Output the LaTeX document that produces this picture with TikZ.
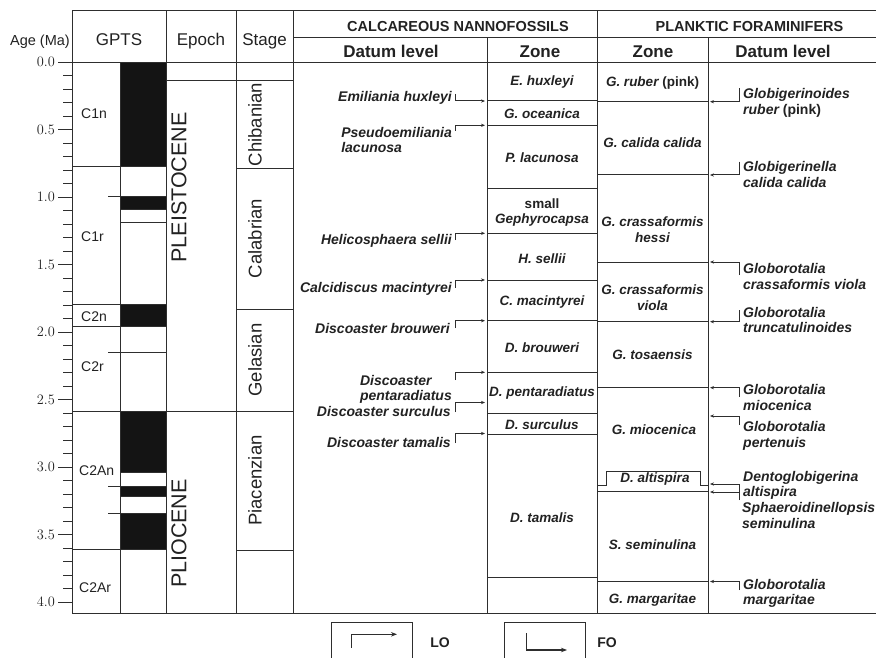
\documentclass[tikz,border=0pt]{standalone}
\usepackage{fontspec}
\setmainfont{Liberation Sans}
\usepackage{xcolor}
\usepackage{tikz}
\usetikzlibrary{arrows.meta}
\definecolor{ink}{HTML}{2E2E2E}
\definecolor{rev}{HTML}{141414}
\definecolor{txt}{HTML}{222222}
\tikzset{
  tabline/.style={draw=ink, line width=1pt},
  npol/.style={fill=rev, draw=ink, line width=1pt},
  datarrow/.style={draw=ink, line width=1pt, -{Stealth[length=4pt,width=3.2pt]}},
  keyarrow/.style={draw=ink, line width=1.4pt, -{Stealth[length=6pt,width=4.5pt]}},
  hdr/.style={text=txt, font=\fontsize{17}{20}\selectfont, inner sep=0, anchor=base},
  hdrcap/.style={text=txt, font=\fontsize{14.5}{17}\selectfont\bfseries, inner sep=0, anchor=base},
  hdrsub/.style={text=txt, font=\fontsize{17}{20}\selectfont\bfseries, inner sep=0, anchor=base},
  agelab/.style={text=txt, font=\fontsize{13.5}{16}\selectfont, inner sep=0, anchor=east},
  chron/.style={text=txt, font=\fontsize{14}{16}\selectfont, inner sep=0, anchor=west},
  epochlab/.style={text=txt, font=\fontsize{21.5}{24}\selectfont, rotate=90, anchor=north,
    inner sep=0, text height=0.72em, text depth=0pt},
  stagelab/.style={text=txt, font=\fontsize{18.5}{21}\selectfont, rotate=90, anchor=north,
    inner sep=0, text height=0.74em, text depth=0.21em},
  zonelab/.style={text=txt, font=\fontsize{13.5}{15.5}\selectfont\bfseries\itshape, align=center, inner sep=0},
  datl/.style={text=txt, font=\fontsize{14}{15.5}\selectfont\bfseries\itshape, align=left, inner sep=0},
  keylab/.style={text=txt, font=\fontsize{14}{16}\selectfont\bfseries, inner sep=0}
}

\begin{document}
\begin{tikzpicture}[x=1pt,y=-1pt]
  \useasboundingbox[fill=white] (0,0) rectangle (876,658);

  % table frame
  \draw[tabline] (72,11) -- (876,11);
  \draw[tabline] (293,38) -- (876,38);
  \draw[tabline] (58,62.3) -- (876,62.3);
  \draw[tabline] (72,613) -- (876,613);
  \foreach \x in {72,166,236,293,597} \draw[tabline] (\x,11) -- (\x,613);
  \foreach \x in {487,708} \draw[tabline] (\x,38) -- (\x,613);
  \draw[tabline] (120,62.3) -- (120,613);

  % age axis
  \foreach \i in {1,...,40} {
    \pgfmathsetmacro\yy{62.3+13.5*\i}
    \draw[tabline] (63,\yy) -- (72,\yy);
  }
  \foreach \k in {0,...,8} {
    \pgfmathsetmacro\yy{62.3+67.5*\k}
    \pgfmathsetmacro\lab{\k/2}
    \draw[tabline] (58,\yy) -- (72,\yy);
    \node[agelab] (age\k) at (55,\yy) {\pgfmathprintnumber[fixed,fixed zerofill,precision=1]{\lab}};
  }

  % header
  \node[agelab, anchor=base east, font=\fontsize{14.5}{17}\selectfont] (agehd) at (70,45.5) {Age (Ma)};
  \node[hdr] (gptshd) at (119,46) {GPTS};
  \node[hdr] (epochhd) at (201,46) {Epoch};
  \node[hdr] (stagehd) at (264.5,46) {Stage};
  \node[hdrcap] (nannohd) at (458,31.7) {CALCAREOUS NANNOFOSSILS};
  \node[hdrcap] (foramhd) at (749.5,31.7) {PLANKTIC FORAMINIFERS};
  \node[hdrsub] (ndatumhd) at (391,57.3) {Datum level};
  \node[hdrsub] (nzonehd) at (540,57.3) {Zone};
  \node[hdrsub] (fzonehd) at (653,57.3) {Zone};
  \node[hdrsub] (fdatumhd) at (783,57.3) {Datum level};

  % GPTS
  \foreach \y in {167,304.3,326} \draw[tabline] (72,\y) -- (120,\y);
  \draw[tabline] (72,411) -- (293,411);
  \draw[tabline] (72,549) -- (120,549);
  \draw[npol] (120,62.3) rectangle (166,167);
  \draw[npol] (120,197) rectangle (166,209);
  \draw[npol] (120,304.3) rectangle (166,326);
  \draw[npol] (120,411) rectangle (166,472);
  \draw[npol] (120,486) rectangle (166,496);
  \draw[npol] (120,513.7) rectangle (166,549);
  \foreach \y in {222.7,352} \draw[tabline] (120,\y) -- (166,\y);
  \foreach \y in {197,352,486,513.7} \draw[tabline] (108,\y) -- (120,\y);
  \node[chron] (c1n) at (81,113.3) {C1n};
  \node[chron] (c1r) at (81,236.7) {C1r};
  \node[chron] (c2n) at (81,316.2) {C2n};
  \node[chron] (c2r) at (81,366.7) {C2r};
  \node[chron] (c2an) at (79,470.7) {C2An};
  \node[chron] (c2ar) at (79,587.3) {C2Ar};

  % epochs and stages
  \draw[tabline] (166,81) -- (293,81);
  \foreach \y in {168.3,309,550.3} \draw[tabline] (236,\y) -- (293,\y);
  \node[epochlab] (pleist) at (179,187.5) {PLEISTOCENE};
  \node[epochlab] (plio) at (179,533.5) {PLIOCENE};
  \node[stagelab] (chib) at (254,124.6) {Chibanian};
  \node[stagelab] (calab) at (254,238.6) {Calabrian};
  \node[stagelab] (gelas) at (254,360) {Gelasian};
  \node[stagelab] (piac) at (254,480.6) {Piacenzian};

  % nannofossil zones
  \foreach \y in {101,125.3,188.3,233.3,280,320.7,372.3,413.3,434,577.3}
    \draw[tabline] (487,\y) -- (597,\y);
  \node[zonelab] (zehux) at (542,82.5) {E. huxleyi};
  \node[zonelab] (zgoce) at (542,113.7) {G. oceanica};
  \node[zonelab] (zplac) at (542,157.7) {P. lacunosa};
  \node[zonelab] (zsgep) at (542,212.5) {{\upshape small}\\Gephyrocapsa};
  \node[zonelab] (zhsel) at (542,258.5) {H. sellii};
  \node[zonelab] (zcmac) at (542,302) {C. macintyrei};
  \node[zonelab] (zdbro) at (542,347.5) {D. brouweri};
  \node[zonelab] (zdpen) at (542,393.5) {D. pentaradiatus};
  \node[zonelab] (zdsur) at (542,424.3) {D. surculus};
  \node[zonelab] (zdtam) at (542,517.5) {D. tamalis};

  % nannofossil datums
  \node[datl, anchor=east] (ehux) at (452,98) {Emiliania huxleyi};
  \node[datl, anchor=east] (placun) at (452,140) {Pseudoemiliania\\lacunosa};
  \node[datl, anchor=east] (hsel) at (452,241) {Helicosphaera sellii};
  \node[datl, anchor=east] (cmac) at (452,288.5) {Calcidiscus macintyrei};
  \node[datl, anchor=east] (dbrou) at (450,328.5) {Discoaster brouweri};
  \node[datl, anchor=east] (dpent) at (452,389.5) {Discoaster\\pentaradiatus};
  \node[datl, anchor=east] (dsurc) at (451,411.5) {Discoaster surculus};
  \node[datl, anchor=east] (dtam) at (451,442) {Discoaster tamalis};
  \foreach \nm/\ys/\yt in {ehux/94/101, placun/131/125.3, hsel/240/233.3, cmac/287.5/280,
      dbrou/328/320.7, dpent/380/372.3, dsurc/412/402.5, dtam/443/433.5} {
    \coordinate (\nm-s) at (455,\ys);
    \coordinate (\nm-t) at (485,\yt);
    \draw[datarrow] (\nm-s) |- (\nm-t);
  }

  % foraminifer zones
  \foreach \y in {101.7,175,262,321.7,387.7,491.7,581.7}
    \draw[tabline] (597,\y) -- (708,\y);
  \draw[tabline] (597,485) -| (606.7,471.7) -| (700,485) -- (708,485);
  \node[zonelab] (zgrub) at (652.5,82.7) {G. ruber {\upshape (pink)}};
  \node[zonelab] (zgcal) at (652.5,142.5) {G. calida calida};
  \node[zonelab] (zghes) at (652.5,229.5) {G. crassaformis\\hessi};
  \node[zonelab] (zgvio) at (652.5,297.5) {G. crassaformis\\viola};
  \node[zonelab] (zgtos) at (652.5,354.3) {G. tosaensis};
  \node[zonelab] (zgmio) at (654,429.3) {G. miocenica};
  \node[zonelab] (zdalt) at (655,479.5) {D. altispira};
  \node[zonelab] (zssem) at (652.5,544.3) {S. seminulina};
  \node[zonelab] (zgmar) at (652.5,600.3) {G. margaritae};

  % foraminifer datums
  \node[datl, anchor=west] (gruber) at (743,103) {Globigerinoides\\ruber {\upshape (pink)}};
  \node[datl, anchor=west] (gcal) at (743,174.7) {Globigerinella\\calida calida};
  \node[datl, anchor=west] (gviola) at (743,276.7) {Globorotalia\\crassaformis viola};
  \node[datl, anchor=west] (gtrunc) at (743,319.8) {Globorotalia\\truncatulinoides};
  \node[datl, anchor=west] (gmioc) at (743,397.5) {Globorotalia\\miocenica};
  \node[datl, anchor=west] (gpert) at (743,435.7) {Globorotalia\\pertenuis};
  \node[datl, anchor=west] (dalt) at (743,485.2) {Dentoglobigerina\\altispira};
  \node[datl, anchor=west] (ssem) at (742,515.4) {Sphaeroidinellopsis\\seminulina};
  \node[datl, anchor=west] (gmarg) at (743,593.2) {Globorotalia\\margaritae};
  \foreach \nm/\ys/\yt in {gruber/88.3/101.7, gcal/161.7/175, gviola/275/262, gtrunc/310/321.7,
      gmioc/396.7/387.7, gpert/425/416, dalt/492/484, ssem/500/492, gmarg/590/581.5} {
    \coordinate (\nm-s) at (739,\ys);
    \coordinate (\nm-t) at (710,\yt);
    \draw[datarrow] (\nm-s) |- (\nm-t);
  }

  % legend
  \draw[tabline] (331.7,658) |- (412.3,622.3) -- (412.3,658);
  \draw[tabline] (504.3,658) |- (585.7,622.3) -- (585.7,658);
  \coordinate (lo-s) at (351.7,647.7);
  \coordinate (lo-t) at (397,634.3);
  \draw[keyarrow] (lo-s) |- (lo-t);
  \coordinate (fo-s) at (526.7,633.3);
  \coordinate (fo-t) at (567,650);
  \draw[keyarrow] (fo-s) |- (fo-t);
  \node[keylab] (lo) at (440,642.7) {LO};
  \node[keylab] (fo) at (607,642.7) {FO};
\end{tikzpicture}
\end{document}
